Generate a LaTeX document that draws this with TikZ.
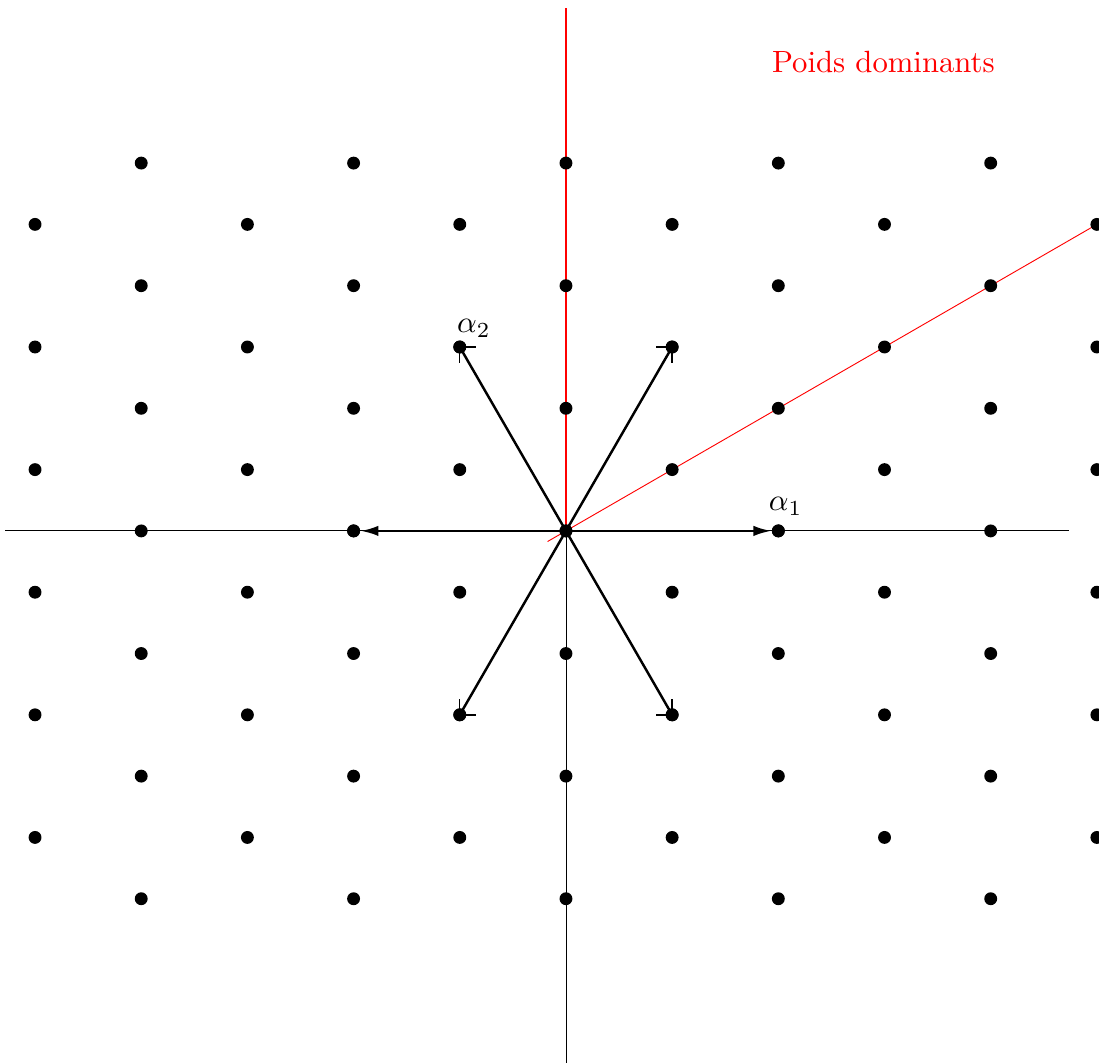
\documentclass[tikz,border=0pt]{standalone}
\usetikzlibrary{arrows.meta}

\begin{document}
\begin{tikzpicture}[x=1.215cm,y=1.215cm,
    root/.style={circle,fill,inner sep=0pt,minimum size=4.2pt},
    barb/.style={line width=0.45pt}]

    \useasboundingbox (-5.33,-5.01) rectangle (5.02,5.0);

    % axes and the dominant chamber
    \draw[line width=0.3pt] (-5.28,0) -- (4.74,0);
    \draw[line width=0.3pt] (0,0) -- (0,-5.01);
    \draw[red,line width=0.35pt] (0,0) -- (0,4.92);
    \draw[red,line width=0.3pt] (210:0.2) -- (30:5.8);

    % weight lattice
    \foreach \j in {-6,-4,...,6}
        \foreach \i in {-4,-2,...,4}
            \fill (\i,{\j/sqrt(3)}) circle (2.1pt);
    \foreach \j in {-5,-3,...,5}
        \foreach \i in {-5,-3,...,5}
            \fill (\i,{\j/sqrt(3)}) circle (2.1pt);

    % roots
    \node[root] (O) at (0,0) {};
    \node[root] (a1) at (2,0) {};
    \node[root] (m1) at (-2,0) {};
    \node[root] (a2) at (-1,{sqrt(3)}) {};
    \node[root] (a3) at (1,{sqrt(3)}) {};
    \node[root] (m2) at (1,{-sqrt(3)}) {};
    \node[root] (m3) at (-1,{-sqrt(3)}) {};

    \draw[thick,-{Latex[length=5.8pt,width=3.4pt]}] (O.center) -- (a1);
    \draw[thick,-{Latex[length=5.8pt,width=3.4pt]}] (O.center) -- (m1);
    \foreach \n/\sx/\sy in {a2/1/-1, a3/-1/-1, m2/-1/1, m3/1/1} {
        \draw[thick] (O.center) -- (\n.center);
        \draw[barb] (\n.center) -- ++(0.15*\sx,0)
            (\n.center) -- ++(0,0.15*\sy);
    }

    \node[above,xshift=2.4pt,yshift=1.6pt] at (a1) {$\alpha_1$};
    \node[above,xshift=4.6pt,yshift=-0.3pt] at (a2) {$\alpha_2$};
    \node[red] (P) at (2.99,4.42) {Poids dominants};

\end{tikzpicture}
\end{document}
